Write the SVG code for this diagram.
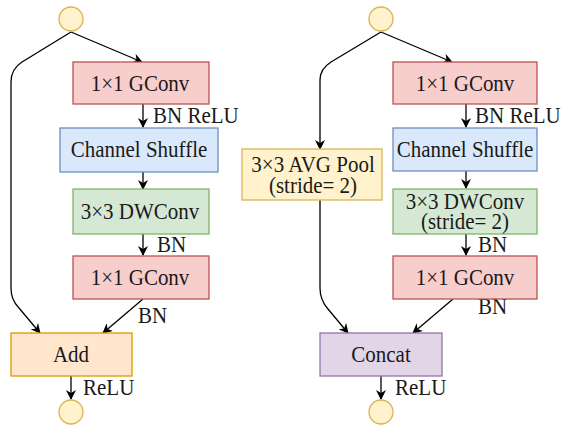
<svg xmlns="http://www.w3.org/2000/svg" width="563" height="428" viewBox="0 0 563 428">
  <defs>
    <marker id="arr" viewBox="0 0 10 10" refX="9" refY="5" markerWidth="10" markerHeight="10" markerUnits="userSpaceOnUse" orient="auto">
      <path d="M0,0 L10,5 L0,10 L3,5 Z" fill="#000"/>
    </marker>
    <style>
      text { font-family: "Liberation Serif", "Times New Roman", serif; font-size: 21px; fill: #1a1a1a; }
      .mid { text-anchor: middle; }
      .edge { fill: none; stroke: #000; stroke-width: 1.3; marker-end: url(#arr); }
      .term { fill: #fff2cc; stroke: #d6b656; stroke-width: 1.3; }
      .gconv { fill: #f8cecc; stroke: #b85450; stroke-width: 1.3; }
      .shuf { fill: #dae8fc; stroke: #6c8ebf; stroke-width: 1.3; }
      .dw { fill: #d5e8d4; stroke: #82b366; stroke-width: 1.3; }
      .add { fill: #ffe6cc; stroke: #d79b00; stroke-width: 1.3; }
      .pool { fill: #fff2cc; stroke: #d6b656; stroke-width: 1.3; }
      .cat { fill: #e1d5e7; stroke: #9673a6; stroke-width: 1.3; }
    </style>
  </defs>

  <!-- connectors -->
  <g id="edges">
    <!-- left unit -->
    <path class="edge" d="M71,32 L142,62"/>
    <path class="edge" d="M71,32 L22,62 Q11,69 11,82 L11,288 Q11,300 19,308 L40,333"/>
    <path class="edge" d="M143,104 L143,127"/>
    <path class="edge" d="M143,172 L143,189"/>
    <path class="edge" d="M143,234 L143,255"/>
    <path class="edge" d="M143,299 L103,333"/>
    <path class="edge" d="M71,376 L71,399"/>
    <!-- right unit -->
    <path class="edge" d="M381,32 L452,62"/>
    <path class="edge" d="M381,32 L331,62 Q320,69 320,80 L320,149"/>
    <path class="edge" d="M466,104 L466,127"/>
    <path class="edge" d="M466,171 L466,188"/>
    <path class="edge" d="M466,234 L466,255"/>
    <path class="edge" d="M453,299 L413,333"/>
    <path class="edge" d="M320,200 L320,288 Q320,300 328,309 L348,333"/>
    <path class="edge" d="M381,376 L381,399"/>
  </g>

  <!-- edge labels (text drawn slightly taller than wide) -->
  <g id="edge-labels">
    <text transform="matrix(1 0 0 1.1 153 123)">BN ReLU</text>
    <text transform="matrix(1 0 0 1.1 157 252)">BN</text>
    <text transform="matrix(1 0 0 1.1 138 323)">BN</text>
    <text transform="matrix(1 0 0 1.1 83 395)">ReLU</text>
    <text transform="matrix(1 0 0 1.1 475 123)">BN ReLU</text>
    <text transform="matrix(1 0 0 1.1 478 252)">BN</text>
    <text transform="matrix(1 0 0 1.1 478 314)">BN</text>
    <text transform="matrix(1 0 0 1.1 395 395)">ReLU</text>
  </g>

  <!-- left unit nodes -->
  <g id="l-in"><circle class="term" cx="71" cy="19" r="12"/></g>
  <g id="l-gconv1"><rect class="gconv" x="73" y="62" width="136" height="42"/><text class="mid" transform="matrix(1 0 0 1.1 140 91)">1×1 GConv</text></g>
  <g id="l-shuffle"><rect class="shuf" x="60" y="128" width="158" height="44"/><text class="mid" transform="matrix(1 0 0 1.1 139 157)">Channel Shuffle</text></g>
  <g id="l-dwconv"><rect class="dw" x="73" y="189" width="136" height="45"/><text class="mid" transform="matrix(1 0 0 1.1 140 219)">3×3 DWConv</text></g>
  <g id="l-gconv2"><rect class="gconv" x="73" y="256" width="136" height="43"/><text class="mid" transform="matrix(1 0 0 1.1 140 285)">1×1 GConv</text></g>
  <g id="l-add"><rect class="add" x="11" y="333" width="121" height="43"/><text class="mid" transform="matrix(1 0 0 1.1 71 362)">Add</text></g>
  <g id="l-out"><circle class="term" cx="71" cy="412" r="12"/></g>

  <!-- right unit nodes -->
  <g id="r-in"><circle class="term" cx="381" cy="19" r="12"/></g>
  <g id="r-gconv1"><rect class="gconv" x="393" y="62" width="144" height="42"/><text class="mid" transform="matrix(1 0 0 1.1 465 91)">1×1 GConv</text></g>
  <g id="r-shuffle"><rect class="shuf" x="393" y="128" width="144" height="43"/><text class="mid" transform="matrix(1 0 0 1.1 465 157)">Channel Shuffle</text></g>
  <g id="r-dwconv"><rect class="dw" x="393" y="189" width="144" height="45"/><text class="mid" transform="matrix(1 0 0 1.1 465 209)">3×3 DWConv</text><text class="mid" transform="matrix(1 0 0 1.1 465 229)">(stride= 2)</text></g>
  <g id="r-gconv2"><rect class="gconv" x="393" y="256" width="144" height="43"/><text class="mid" transform="matrix(1 0 0 1.1 465 285)">1×1 GConv</text></g>
  <g id="r-pool"><rect class="pool" x="242" y="149" width="140" height="51"/><text class="mid" transform="matrix(1 0 0 1.1 313 172)">3×3 AVG Pool</text><text class="mid" transform="matrix(1 0 0 1.1 313 193)">(stride= 2)</text></g>
  <g id="r-concat"><rect class="cat" x="320" y="333" width="122" height="43"/><text class="mid" transform="matrix(1 0 0 1.1 381 362)">Concat</text></g>
  <g id="r-out"><circle class="term" cx="381" cy="412" r="12"/></g>
</svg>
